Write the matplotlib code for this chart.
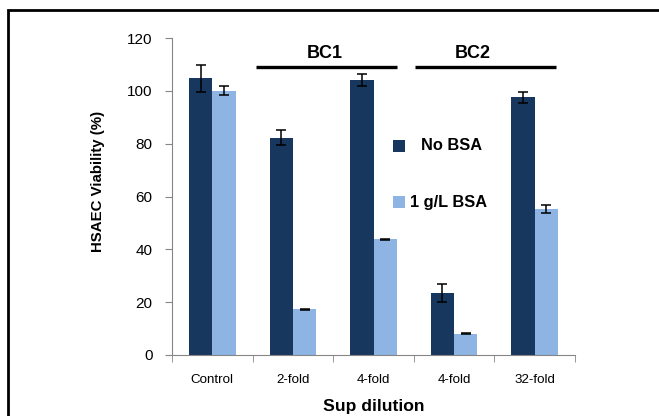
import matplotlib
matplotlib.use("Agg")
import matplotlib.pyplot as plt
import numpy as np
from matplotlib.patches import Rectangle

categories = ["Control", "2-fold", "4-fold", "4-fold", "32-fold"]
no_bsa = [104.8, 82.3, 104.2, 23.4, 97.5]
no_bsa_err = [5.1, 2.8, 2.3, 3.3, 2.0]
bsa = [100.1, 17.3, 43.8, 8.1, 55.3]
bsa_err = [1.8, 0.3, 0.3, 0.3, 1.6]
series_labels = ["No BSA", "1 g/L BSA"]
groups = ["BC1", "BC2"]
group_spans = [(0.54, 2.29), (2.51, 4.26)]
group_text_x = [1.39, 3.23]

dark = "#17375E"
light = "#8DB4E2"
gray = "#868686"
font = "Liberation Sans"

W, H = 659, 416
fig = plt.figure(figsize=(W/100, H/100), dpi=100)
ax = fig.add_axes([172/W, 1-355/H, 403/W, 317/H])

x = np.arange(len(categories))
w = 0.29
ax.bar(x - w/2, no_bsa, w, color=dark, label=series_labels[0])
ax.bar(x + w/2, bsa, w, color=light, label=series_labels[1])
ax.errorbar(x - w/2, no_bsa, yerr=no_bsa_err, fmt="none", ecolor="black",
            elinewidth=1.1, capsize=3.6, capthick=1.1)
ax.errorbar(x + w/2, bsa, yerr=bsa_err, fmt="none", ecolor="black",
            elinewidth=1.1, capsize=3.6, capthick=1.1)

ax.set_xlim(-0.5, len(categories) - 0.5)
ax.set_ylim(0, 120)
ax.set_yticks(np.arange(0, 121, 20))
ax.set_xticks(x)
ax.set_xticklabels(categories, fontsize=9.6, family=font)
ax.set_xticks(np.arange(-0.5, len(categories), 1), minor=True)
ax.tick_params(axis="x", which="major", length=0, pad=14)
ax.tick_params(axis="x", which="minor", length=5, color=gray)
ax.tick_params(axis="y", length=5, color=gray, labelsize=11, pad=9)
for lab in ax.get_yticklabels():
    lab.set_family(font)
for s in ["top", "right"]:
    ax.spines[s].set_visible(False)
for s in ["left", "bottom"]:
    ax.spines[s].set_color(gray)

ax.set_ylabel("HSAEC Viability (%)", fontsize=10.8, fontweight="bold",
              family=font)
ax.yaxis.set_label_coords(-0.167, 0.546)

for g, (a, b), tx in zip(groups, group_spans, group_text_x):
    ax.plot([a, b], [109.2, 109.2], color="black", lw=2.4, clip_on=False,
            solid_capstyle="butt")
    ax.text(tx, 112.6, g, ha="center", va="baseline",
            fontsize=13, fontweight="bold", family=font)

# legend (manual placement to mimic the original layout)
leg_items = [(series_labels[0], dark, 152, 421, 150),
             (series_labels[1], light, 208, 410, 207)]
for lab, col, sq_bottom, tx, base in leg_items:
    fig.patches.append(Rectangle((393/W, 1-sq_bottom/H), 12/W, 12/H,
                                 transform=fig.transFigure,
                                 facecolor=col, edgecolor="none"))
    fig.text(tx/W, 1-base/H, lab, ha="left", va="baseline", fontsize=11.8,
             fontweight="bold", family=font)

fig.text(373.5/W, 1-411/H, "Sup dilution", ha="center", va="baseline",
         fontsize=12.6, fontweight="bold", family=font)

fig.patches.append(Rectangle((8/W, -0.2), 2.0, 1.2 - 10/H,
                             transform=fig.transFigure, fill=False,
                             edgecolor="black", lw=2.0))

fig.savefig("out.png", dpi=100)
